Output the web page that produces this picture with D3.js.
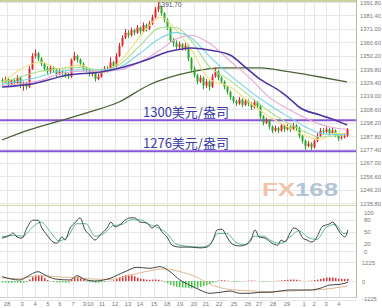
<!DOCTYPE html>
<html>
<head>
<meta charset="utf-8">
<script src="https://cdn.jsdelivr.net/npm/d3@7/dist/d3.min.js"></script>
<style>
  body { margin: 0; background: #fff; }
  svg { display: block; }
</style>
</head>
<body>
<div id="chart"></div>
<script>
// 4H gold candles (open = previous close)
const firstOpen = 1331;
const closes = [1330,1332,1328,1331,1329,1333,1327,1329,1326,1340,1350,1352,1348,1344,1340,1338,1341,1339,1336,1338,
  1337,1335,1334,1347,1350,1347,1344,1340,1339,1336,1337,1332,1334,1338,1340,1339,1345,1342,1350,1358,
  1364,1368,1366,1370,1368,1372,1369,1374,1371,1375,1380,1386,1388,1383,1378,1372,1362,1360,1357,1359,
  1356,1358,1348,1340,1335,1330,1333,1327,1330,1326,1334,1338,1333,1330,1326,1322,1318,1315,1313,1316,
  1312,1315,1313,1310,1314,1311,1303,1298,1300,1295,1292,1294,1292,1296,1293,1295,1293,1296,1294,1288,
  1284,1280,1282,1279,1284,1288,1292,1291,1293,1290,1292,1289,1286,1287,1288,1293];
const highs = [1333,1334,1333,1332,1332,1335,1334,1330,1330,1342,1352,1355,1353,1349,1345,1342,1343,1342,1340,1340,
  1339,1338,1337,1348,1353,1351,1348,1345,1342,1340,1339,1338,1336,1340,1342,1342,1349,1346,1352,1360,
  1366,1371,1370,1372,1371,1374,1373,1376,1375,1377,1382,1388,1391.7,1389,1384,1379,1373,1364,1362,1361,
  1360,1360,1359,1349,1342,1336,1335,1334,1332,1331,1336,1341,1339,1334,1331,1327,1323,1319,1316,1318,
  1317,1317,1316,1314,1316,1315,1312,1304,1302,1301,1296,1296,1295,1298,1297,1297,1296,1298,1297,1295,
  1289,1285,1284,1283,1285,1290,1294,1294,1295,1294,1294,1293,1290,1289,1290,1294];
const lows = [1328,1329,1326,1327,1327,1328,1325,1323,1324,1325,1339,1348,1346,1342,1338,1336,1336,1337,1333,1335,
  1334,1333,1332,1333,1346,1345,1342,1338,1337,1334,1334,1330,1331,1333,1337,1337,1338,1340,1341,1349,
  1357,1363,1364,1365,1366,1367,1367,1368,1369,1370,1374,1379,1384,1381,1376,1370,1360,1357,1355,1355,
  1354,1354,1346,1337,1333,1328,1329,1324,1325,1323,1325,1333,1331,1328,1324,1320,1316,1313,1311,1312,
  1310,1311,1311,1308,1309,1309,1301,1296,1297,1293,1290,1291,1290,1291,1291,1292,1291,1292,1292,1286,
  1282,1277,1279,1277,1278,1283,1287,1289,1290,1288,1289,1287,1284,1285,1286,1287];

// moving averages: [bar index, price]
const maIdx = [0,13,19,26,33,39,46,53,58,63,69,76,83,89,96,101,106,111,115];
const maYellow = [1329,1345,1340,1343,1337,1345,1365,1380,1370,1355,1332,1326,1313,1303,1294,1288,1285,1290,1289];
const maGreen = [1329,1338,1340,1341,1339,1343,1358,1372,1372,1362,1342,1331,1318,1307,1297,1291,1287,1288,1289];
const maCyan = [1328,1334,1338,1339,1339,1341,1352,1364,1368,1364,1350,1335,1322,1312,1302,1295,1290,1289,1289];
const maPink = [1327,1331,1336,1338,1338,1339,1345,1355,1363,1366,1360,1346,1332,1318,1308,1302,1297,1294,1293];
const maPurple = [[0,1325.8],[10,1328.2],[22,1335.1],[33,1337.5],[38,1339.8],[44,1343.7],[49,1347.6],[55,1353.0],
  [60,1355.3],[63,1356.1],[69,1354.5],[76,1350.7],[81,1341.4],[86,1332.0],[93,1322.0],[96,1316.5],[99,1310.3],
  [106,1304.1],[111,1300.2],[115,1296.3]];
const maLong = [[0,1284.7],[9,1292.5],[19,1299.4],[29,1306.4],[39,1314.2],[49,1327.4],[63,1337.5],[73,1340.6],
  [86,1340.6],[96,1337.5],[106,1333.6],[115,1329.7]];

const levels = [1300, 1276];
const levelLabels = ["1300美元/盎司", "1276美元/盎司"];
const peakLabel = "1391.70";

// stochastic K / D: [bar index, value]
const kLine = [[0,33],[2.7,41],[3.7,46],[5,36],[6.7,33],[8.3,59],[10.3,79],[12,79],[13.3,59],[15,41],[17,23],[18.3,20],
  [20,36],[21,28],[22.7,59],[24.3,72],[26,85],[27.7,54],[29.3,41],[31,28],[32.7,41],[35,59],[36.3,74],[37.7,62],
  [39.3,67],[41,79],[42.7,85],[44.3,85],[46,74],[48.3,72],[50,59],[51.7,67],[53.3,49],[55,36],[56.7,15],[59.3,10],
  [62.7,10],[66,8],[68.3,10],[70.3,28],[71.7,54],[73.3,56],[75,36],[76.7,18],[79.3,13],[81.7,18],[83,28],[84.3,54],
  [85.7,36],[87.7,33],[90,20],[92,15],[93,28],[94.3,23],[96,46],[97.3,59],[98.7,54],[100.3,33],[101.7,28],[103.3,23],
  [105,36],[106.7,62],[109,69],[110.3,74],[111.7,59],[113.3,41],[114.3,36],[115.3,54]];
const dLine = [[0,36],[4,40],[7,38],[10,60],[13,74],[16,50],[19,26],[22,38],[25,70],[28,70],[31,38],[34,45],[37,65],
  [40,68],[43,80],[46,80],[49,68],[52,60],[55,45],[58,18],[62,12],[66,10],[69,15],[72,45],[75,45],[78,22],[81,16],
  [84,38],[87,38],[90,25],[93,20],[96,36],[99,52],[102,35],[105,30],[108,60],[111,68],[114,45],[115.3,46]];

// MACD
const macdHist = [-80,-100,-120,-110,-90,-100,-120,-100,-60,100,250,350,380,330,200,60,-30,-60,-90,-100,
  -90,-110,-100,80,220,260,200,100,-20,-70,-80,-120,-110,-80,-50,-30,20,40,120,220,
  320,380,400,370,300,220,150,120,90,80,90,100,80,30,-60,-150,-250,-320,-380,-400,
  -420,-430,-460,-480,-470,-430,-380,-330,-260,-190,-110,-40,30,50,40,20,-20,-40,-50,-30,
  -10,10,20,30,20,0,-20,-40,-30,-20,-10,10,20,40,60,80,90,100,80,40,
  10,-10,20,30,60,90,130,180,220,230,220,190,150,140,130,140];
const difLine = [[0,277],[6,65],[8.3,277],[12,600],[14.3,387],[17.7,129],[22.7,65],[25,340],[27.7,84],[31,0],[36,174],
  [41,600],[45,884],[49.3,819],[52.7,922],[56,600],[59.3,65],[63,-300],[66,-580],[69.3,-793],[72.7,-729],[76,-645],
  [79.3,-793],[82.7,-793],[86,-729],[89.3,-729],[92.7,-645],[96,-580],[99.3,-580],[102.7,-580],[106,-471],
  [109.3,-258],[112.7,-213],[115.3,-84]];
const deaLine = [[0,200],[6,150],[12,350],[17.7,280],[25,200],[31,120],[36,100],[41,300],[47.7,600],[54.3,780],
  [59.3,600],[64.3,300],[69.3,-200],[74.3,-500],[81,-620],[89.3,-680],[99.3,-620],[106,-560],[112.7,-400],[115.3,-320]];

const priceTicks = [1391.80,1381.40,1371.00,1360.60,1350.20,1339.80,1329.40,1319.00,1308.60,1298.20,1287.80,1277.40,1267.00,1256.60,1246.20,1235.80];
const kdTicks = [100, 80, 50, 20, 0];
const macdTicks = [1225, 0, -1225];
const dayIdx = [1.7,6.7,11,15.3,19.3,23.7,28.7,33.3,37.7,42,46,50.7,55,59.3,64,68,72.3,77.3,82,85.7,90.3,95,100.7,104,108,112.3];
const dayLabels = ["28","3","4","5","6","7","3/10","11","12","13","14","15","18","19","20","21","22","25","26","27","28","29","1","2","3","4"];

const W = 382, H = 308;
const plotR = 356;

const svg = d3.select("#chart").append("svg")
  .attr("width", W).attr("height", H)
  .style("font-family", "'Liberation Sans', Arial, sans-serif");

const x = d3.scaleLinear().domain([0, closes.length - 1]).range([2, 347]);
const y = d3.scaleLinear().domain([1235.8, 1391.8]).range([203, 2]);
const yK = d3.scaleLinear().domain([0, 100]).range([251, 212]);
const yM = d3.scaleLinear().domain([-1225, 1225]).range([300, 262]);

const grid = svg.append("g").attr("stroke", "#e6e6e6").attr("stroke-width", 1);
dayIdx.forEach(d => {
  const gx = Math.round(x(d)) + 0.5;
  grid.append("line").attr("x1", gx).attr("x2", gx).attr("y1", 2).attr("y2", 297);
});
priceTicks.forEach(t => {
  const gy = Math.round(y(t)) + 0.5;
  grid.append("line").attr("x1", 0).attr("x2", plotR).attr("y1", gy).attr("y2", gy);
});
kdTicks.forEach(t => {
  const gy = Math.round(yK(t)) + 0.5;
  grid.append("line").attr("x1", 0).attr("x2", plotR).attr("y1", gy).attr("y2", gy);
});
macdTicks.forEach(t => {
  const gy = Math.round(yM(t)) + 0.5;
  grid.append("line").attr("x1", 0).attr("x2", plotR).attr("y1", gy).attr("y2", gy);
});

// panel borders
svg.append("line").attr("x1", 0).attr("x2", plotR).attr("y1", 1).attr("y2", 1).attr("stroke", "#c9d29a").attr("stroke-width", 2);
svg.append("line").attr("x1", 0).attr("x2", plotR).attr("y1", 205.5).attr("y2", 205.5).attr("stroke", "#d6d9a8");
svg.append("line").attr("x1", 0).attr("x2", plotR).attr("y1", 297.5).attr("y2", 297.5).attr("stroke", "#d0d0d0");
svg.append("line").attr("x1", plotR + 0.5).attr("x2", plotR + 0.5).attr("y1", 0).attr("y2", 298).attr("stroke", "#a9c4a0");

// watermark
const wm = svg.append("text").attr("x", 262).attr("y", 196)
  .attr("textLength", 76).attr("lengthAdjust", "spacingAndGlyphs")
  .style("font-family", "'Liberation Sans', Arial, sans-serif").style("font-size", "19px").style("font-weight", "bold");
wm.append("tspan").attr("fill", "#f2c3a8").text("FX");
wm.append("tspan").attr("fill", "#b3c4d8").text("168");

// level lines
levels.forEach(l => {
  svg.append("line").attr("x1", 0).attr("x2", plotR).attr("y1", y(l)).attr("y2", y(l))
    .attr("stroke", "#8a55d8").attr("stroke-width", 2);
});
levelLabels.forEach((t, i) => {
  svg.append("text").attr("x", 143).attr("y", y(levels[i]) - 3)
    .attr("fill", "#3a3aa8").style("font-family", "'Noto Sans CJK SC', sans-serif").style("font-size", "13px")
    .text(t);
});

// long MA under candles
const line = d3.line().x(d => x(d[0])).y(d => y(d[1])).curve(d3.curveMonotoneX);
svg.append("path").datum(maLong).attr("d", line).attr("fill", "none").attr("stroke", "#4d6135").attr("stroke-width", 1.3);

// candles
const opens = closes.map((c, i) => i === 0 ? firstOpen : closes[i - 1]);
const cg = svg.append("g");
closes.forEach((c, i) => {
  const o = opens[i];
  const col = c >= o ? "#e3262a" : "#2aa82a";
  const cx = Math.round(x(i));
  cg.append("line").attr("x1", cx + 0.5).attr("x2", cx + 0.5).attr("y1", y(highs[i])).attr("y2", y(lows[i])).attr("stroke", col);
  const top = y(Math.max(o, c)), bot = y(Math.min(o, c));
  cg.append("rect").attr("x", cx - 0.5).attr("y", top).attr("width", 2).attr("height", Math.max(1, bot - top)).attr("fill", col);
});

// short MAs
const maColors = [["#f0e278", maYellow], ["#a6e08c", maGreen], ["#78d4e6", maCyan], ["#e6a8d6", maPink]];
maColors.forEach(([col, vals]) => {
  svg.append("path").datum(maIdx.map((d, i) => [d, vals[i]])).attr("d", line)
    .attr("fill", "none").attr("stroke", col).attr("stroke-width", 1.1);
});
svg.append("path").datum(maPurple).attr("d", line).attr("fill", "none").attr("stroke", "#4f35a5").attr("stroke-width", 1.6);

// peak label
svg.append("text").attr("x", 158).attr("y", 7).attr("fill", "#555").style("font-size", "6.5px").text(peakLabel);

// KD
const kdl = d3.line().x(d => x(d[0])).y(d => yK(d[1])).curve(d3.curveMonotoneX);
svg.append("path").datum(dLine).attr("d", kdl).attr("fill", "none").attr("stroke", "#5fb7a0").attr("stroke-width", 1);
svg.append("path").datum(kLine).attr("d", kdl).attr("fill", "none").attr("stroke", "#3a4a44").attr("stroke-width", 1);

// MACD
const hg = svg.append("g");
macdHist.forEach((v, i) => {
  const cx = Math.round(x(i));
  hg.append("rect").attr("x", cx).attr("width", 1.5)
    .attr("y", v >= 0 ? yM(v) : yM(0)).attr("height", Math.abs(yM(v) - yM(0)))
    .attr("fill", v >= 0 ? "#e03030" : "#44cc44");
});
const ml = d3.line().x(d => x(d[0])).y(d => yM(d[1])).curve(d3.curveMonotoneX);
svg.append("path").datum(deaLine).attr("d", ml).attr("fill", "none").attr("stroke", "#e0b890").attr("stroke-width", 1);
svg.append("path").datum(difLine).attr("d", ml).attr("fill", "none").attr("stroke", "#444").attr("stroke-width", 1);

// right axis labels
const ax = svg.append("g").attr("fill", "#777").style("font-size", "5.8px");
priceTicks.forEach(t => ax.append("text").attr("x", 360).attr("y", y(t) + 2.5).text(t.toFixed(2)));
kdTicks.forEach(t => ax.append("text").attr("x", 364).attr("y", yK(t) + 2.5).text(t));
macdTicks.forEach(t => ax.append("text").attr("x", 362).attr("y", Math.min(yM(t) + 2.5, 301)).text(t));

// bottom date labels
dayIdx.forEach((d, i) => {
  ax.append("text").attr("x", x(d)).attr("y", 306).attr("text-anchor", "middle").text(dayLabels[i]);
});
</script>
</body>
</html>
